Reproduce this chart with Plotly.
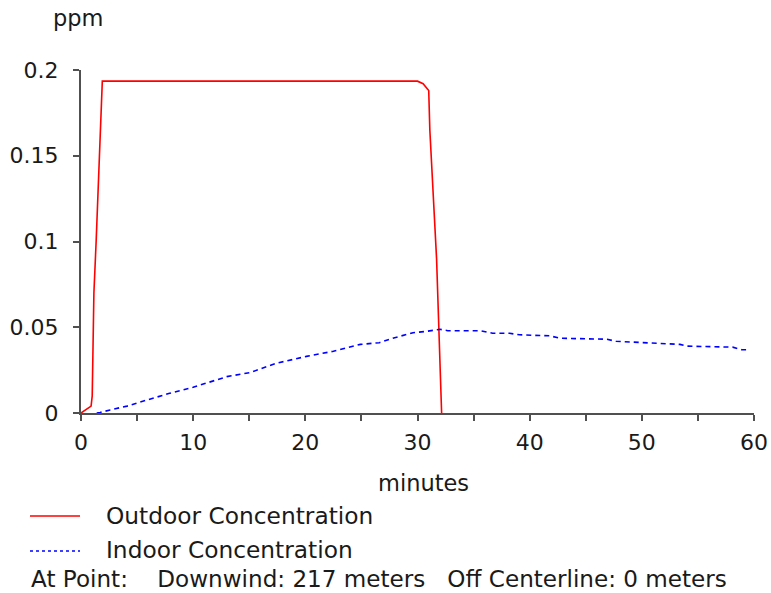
import plotly.graph_objects as go

# Outdoor concentration time series (minutes, ppm)
outdoor_t = [0, 0.9, 1.0, 1.15, 1.35, 1.8, 1.9, 30.0, 30.5, 31.0, 31.1, 31.7, 32.0, 32.15]
outdoor_ppm = [0, 0.004, 0.01, 0.07, 0.10, 0.185, 0.1935, 0.1935, 0.192, 0.188, 0.165, 0.09, 0.02, 0]

# Indoor concentration time series (minutes, ppm)
indoor_t = [1.4, 1.7, 2.6, 4.1, 5.9, 7.9, 10.0, 13.0, 15.1, 17.4, 20.1, 22.5, 24.9, 26.6,
            27.8, 29.6, 30.8, 32.0, 32.7, 35.6, 36.7, 38.2, 39.1, 41.8, 42.7, 46.9, 47.7,
            50.7, 53.4, 54.0, 58.1, 58.9, 59.6]
indoor_ppm = [0, 0.0003, 0.0018, 0.004, 0.0076, 0.0115, 0.015, 0.0212, 0.0236, 0.029, 0.033,
              0.036, 0.040, 0.041, 0.0436, 0.0468, 0.0476, 0.0488, 0.048, 0.048, 0.0465,
              0.0465, 0.0456, 0.045, 0.0436, 0.043, 0.0418, 0.0408, 0.040, 0.039, 0.0384,
              0.0369, 0.0369]

x_ticks = [0, 10, 20, 30, 40, 50, 60]
y_ticks = [0, 0.05, 0.1, 0.15, 0.2]
y_tick_labels = ["0", "0.05", "0.1", "0.15", "0.2"]

FONT = "DejaVu Sans"
TXT = "#1a1a1a"
AX = "#505050"
W, H = 771, 593
L, R, T, B = 81, 17, 70, 180
PH = H - T - B

def py(pix):
    """Convert a page row (px from top) to paper y."""
    return (H - B - pix) / PH

def px(pix):
    return (pix - L) / (W - L - R)

fig = go.Figure()
fig.add_trace(go.Scatter(x=outdoor_t, y=outdoor_ppm, mode="lines",
                         line=dict(color="#ff0000", width=1.6),
                         name="Outdoor Concentration", showlegend=False))
fig.add_trace(go.Scatter(x=indoor_t, y=indoor_ppm, mode="lines",
                         line=dict(color="#0000ff", width=1.6, dash="5px,4px"),
                         name="Indoor Concentration", showlegend=False))

axis_common = dict(showgrid=False, zeroline=False, showline=True, linecolor=AX,
                   linewidth=2, ticks="outside", ticklen=6, tickwidth=1.5,
                   tickcolor=AX, automargin=False,
                   tickfont=dict(family=FONT, size=22, color=TXT))

fig.update_xaxes(range=[0, 60], tickvals=x_ticks, ticktext=[str(v) for v in x_ticks],
                 minor=dict(dtick=5, ticks="outside", ticklen=6, tickwidth=1.5,
                            tickcolor=AX, showgrid=False),
                 ticklabelstandoff=3, **axis_common)
fig.update_yaxes(range=[0, 0.2], tickvals=y_ticks, ticktext=y_tick_labels,
                 ticklabelstandoff=10, **axis_common)

annotations = [
    dict(text="ppm", x=px(78), y=py(18), xanchor="center", yanchor="middle", size=22.5),
    dict(text="minutes", x=px(423), y=py(483), xanchor="center", yanchor="middle", size=22.5),
    dict(text="Outdoor Concentration", x=px(104), y=py(515), xanchor="left", yanchor="middle", size=23.3),
    dict(text="Indoor Concentration", x=px(104), y=py(549), xanchor="left", yanchor="middle", size=23.3),
    dict(text="At Point:\u00a0\u00a0\u00a0\u00a0Downwind: 217 meters\u00a0\u00a0\u00a0Off Centerline: 0 meters",
         x=px(29), y=py(579), xanchor="left", yanchor="middle", size=23.1),
]
for a in annotations:
    size = a.pop("size")
    a.update(xref="paper", yref="paper", showarrow=False,
             font=dict(family=FONT, size=size, color=TXT))

shapes = [
    dict(type="line", xref="paper", yref="paper", x0=px(30), x1=px(80), y0=py(516), y1=py(516),
         line=dict(color="#ff0000", width=1.6)),
    dict(type="line", xref="paper", yref="paper", x0=px(30), x1=px(80), y0=py(551), y1=py(551),
         line=dict(color="#0000ff", width=1.6, dash="3px,3px")),
]

fig.update_layout(width=W, height=H, margin=dict(l=L, r=R, t=T, b=B),
                  paper_bgcolor="white", plot_bgcolor="white",
                  annotations=annotations, shapes=shapes)

fig.write_html("out.html")
